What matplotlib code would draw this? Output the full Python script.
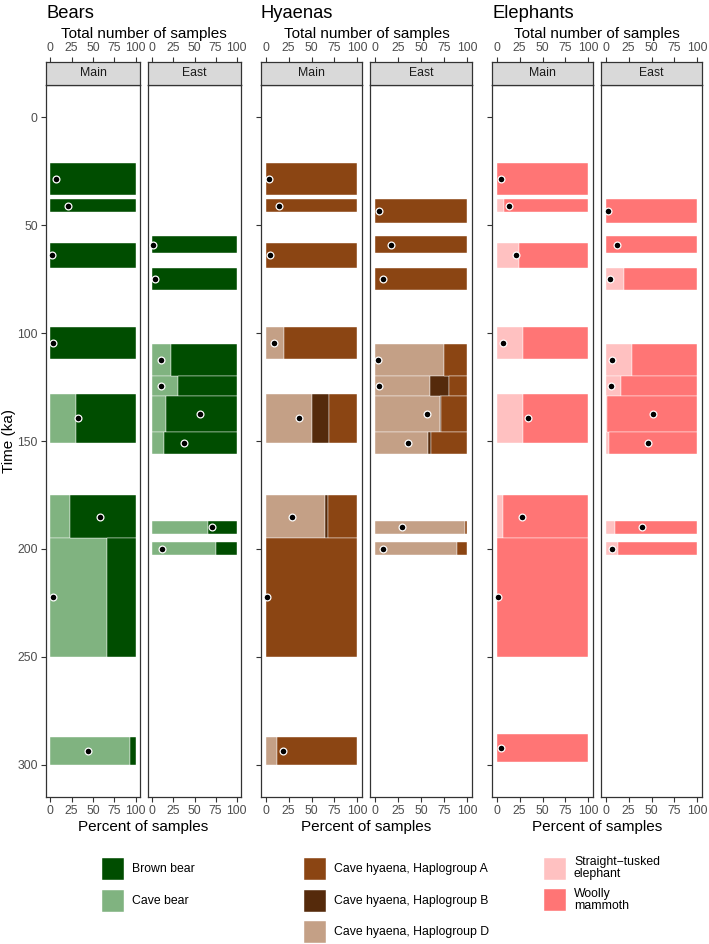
import matplotlib.pyplot as plt
from matplotlib.patches import Rectangle

plt.rcParams['font.family'] = ['Liberation Sans', 'DejaVu Sans']

# ---- data (time in ka, percentages, sample counts) ----
# Bears
bear_main_start = [21, 38, 58, 97, 128, 175, 195, 287]
bear_main_end = [36, 44, 70, 112, 151, 195, 250, 300]
bear_main_cave = [0, 0, 0, 0, 30, 23, 66, 93]
bear_main_brown = [100, 100, 100, 100, 70, 77, 34, 7]
bear_main_n = [7, 21, 2, 3, 33, 58, 3, 44]

bear_east_start = [55, 70, 105, 120, 129, 146, 187, 197]
bear_east_end = [63, 80, 120, 129, 146, 156, 193, 203]
bear_east_cave = [0, 0, 22, 30, 16, 14, 66, 75]
bear_east_brown = [100, 100, 78, 70, 84, 86, 34, 25]
bear_east_n = [1, 3, 10, 10, 56, 37, 71, 12]

# Hyaenas
hy_main_start = [21, 38, 58, 97, 128, 175, 195, 287]
hy_main_end = [36, 44, 70, 112, 151, 195, 250, 300]
hy_main_D = [0, 0, 0, 20, 50, 65, 0, 12]
hy_main_B = [0, 0, 0, 0, 19, 3, 0, 0]
hy_main_A = [100, 100, 100, 80, 31, 32, 100, 88]
hy_main_n = [4, 15, 5, 9, 36, 29, 1, 19]

hy_east_start = [38, 55, 70, 105, 120, 129, 146, 187, 197]
hy_east_end = [49, 63, 80, 120, 129, 146, 156, 193, 203]
hy_east_D = [0, 0, 0, 75, 60, 70, 58, 97, 89]
hy_east_B = [0, 0, 0, 0, 20, 1.5, 2.5, 0, 0]
hy_east_A = [100, 100, 100, 25, 20, 28.5, 39.5, 3, 11]
hy_east_n = [5, 18, 9, 4, 5, 57, 36, 30, 9]

# Elephants
el_main_start = [21, 38, 58, 97, 128, 175, 195, 286]
el_main_end = [36, 44, 70, 112, 151, 195, 250, 299]
el_main_st = [0, 8, 24, 29, 29, 7.5, 0, 0]
el_main_wm = [100, 92, 76, 71, 71, 92.5, 100, 100]
el_main_n = [5, 13, 21, 7, 34, 28, 1, 5]

el_east_start = [38, 55, 70, 105, 120, 129, 146, 187, 197]
el_east_end = [49, 63, 80, 120, 129, 146, 156, 193, 203]
el_east_st = [0, 0, 20, 29, 17, 2, 4, 10, 14]
el_east_wm = [100, 100, 80, 71, 83, 98, 96, 90, 86]
el_east_n = [3, 12, 5, 7, 6, 52, 46, 40, 7]

ticks = [0, 25, 50, 75, 100]
yticks = [0, 50, 100, 150, 200, 250, 300]

c_brown, c_cave = '#004D00', '#80B380'
c_hA, c_hB, c_hD = '#8B4513', '#552A0B', '#C4A086'
c_st, c_wm = '#FFC1C1', '#FF7575'

legend_bears = [(c_brown, 'Brown bear'), (c_cave, 'Cave bear')]
legend_hyaenas = [(c_hA, 'Cave hyaena, Haplogroup A'),
                  (c_hB, 'Cave hyaena, Haplogroup B'),
                  (c_hD, 'Cave hyaena, Haplogroup D')]
legend_elephants = [(c_st, 'Straight\u2212tusked\nelephant'), (c_wm, 'Woolly\nmammoth')]

W, H = 709, 944
fig = plt.figure(figsize=(W / 100, H / 100), dpi=100)


def px_axes(x0, y0, x1, y1):
    return fig.add_axes([x0 / W, 1 - y1 / H, (x1 - x0) / W, (y1 - y0) / H])


def style_spines(ax):
    for s in ax.spines.values():
        s.set_color('#333333')
        s.set_linewidth(0.9)


def draw_panel(ax, start, end, parts, colors, n):
    mid = [(s + e) / 2 for s, e in zip(start, end)]
    hgt = [e - s for s, e in zip(start, end)]
    left = [0] * len(mid)
    for vals, col in zip(parts, colors):
        idx = [i for i, v in enumerate(vals) if v > 0]
        ax.barh([mid[i] for i in idx], [vals[i] for i in idx],
                left=[left[i] for i in idx], height=[hgt[i] for i in idx],
                color=col, edgecolor='white', linewidth=0.3)
        left = [l + v for l, v in zip(left, vals)]
    ax.scatter(n, mid, s=24, c='black', edgecolors='white', linewidths=0.9, zorder=3)


panels = [
    ('Bears', [(46, 140), (148, 241)],
     [(bear_main_start, bear_main_end, [bear_main_cave, bear_main_brown], bear_main_n),
      (bear_east_start, bear_east_end, [bear_east_cave, bear_east_brown], bear_east_n)],
     [c_cave, c_brown]),
    ('Hyaenas', [(261, 362), (370, 472)],
     [(hy_main_start, hy_main_end, [hy_main_D, hy_main_B, hy_main_A], hy_main_n),
      (hy_east_start, hy_east_end, [hy_east_D, hy_east_B, hy_east_A], hy_east_n)],
     [c_hD, c_hB, c_hA]),
    ('Elephants', [(492, 593), (601, 702)],
     [(el_main_start, el_main_end, [el_main_st, el_main_wm], el_main_n),
      (el_east_start, el_east_end, [el_east_st, el_east_wm], el_east_n)],
     [c_st, c_wm]),
]

tick_kw = dict(length=3.8, width=0.8, color='#333333', labelcolor='#4D4D4D',
               labelsize=8.8, pad=2.2)

for k, (title, xs, datasets, colors) in enumerate(panels):
    for j, ((x0, x1), (st, en, parts, n)) in enumerate(zip(xs, datasets)):
        ax = px_axes(x0, 85, x1, 797)
        draw_panel(ax, st, en, parts, colors, n)
        ax.set_xlim(-5, 105)
        ax.set_ylim(315, -15)
        ax.set_xticks(ticks)
        ax.tick_params(axis='x', **tick_kw)
        if j == 0:
            ax.set_yticks(yticks)
            ax.tick_params(axis='y', **tick_kw)
            if k > 0:
                ax.set_yticklabels([])
        else:
            ax.set_yticks([])
        style_spines(ax)

        sx = px_axes(x0, 62, x1, 85)
        sx.set_facecolor('#D9D9D9')
        sx.set_xlim(-5, 105)
        sx.set_ylim(0, 1)
        sx.set_xticks(ticks)
        sx.set_yticks([])
        sx.xaxis.tick_top()
        sx.tick_params(axis='x', **tick_kw)
        sx.text(50, 0.5, 'Main' if j == 0 else 'East', ha='center', va='center',
                fontsize=8.8, color='#1A1A1A')
        style_spines(sx)

    cx = (xs[0][0] + xs[1][1]) / 2
    fig.text(xs[0][0] / W, 1 - 14 / H, title, fontsize=13.2, ha='left', va='center')
    fig.text(cx / W, 1 - 34 / H, 'Total number of samples', fontsize=11, ha='center', va='center')
    fig.text(cx / W, 1 - 827 / H, 'Percent of samples', fontsize=11, ha='center', va='center')

fig.text(9 / W, 1 - 441 / H, 'Time (ka)', fontsize=11, rotation=90, ha='center', va='center')

# legends: one key column per taxon, drawn in a pixel-space overlay axes
lg = fig.add_axes([0, 0, 1, 1])
lg.set_xlim(0, W)
lg.set_ylim(H, 0)
lg.axis('off')
for x_key, y_first, pitch, items in [(102, 869, 31.7, legend_bears),
                                     (304, 869, 31.7, legend_hyaenas),
                                     (544, 868.5, 31.5, legend_elephants)]:
    for i, (col, lab) in enumerate(items):
        yc = y_first + i * pitch
        lg.add_patch(Rectangle((x_key, yc - 11), 22, 22, facecolor=col,
                               edgecolor='white', linewidth=0.3))
        lg.text(x_key + 30, yc, lab, fontsize=8.8, ha='left', va='center',
                linespacing=1.0)

fig.savefig('out.png', dpi=100)
